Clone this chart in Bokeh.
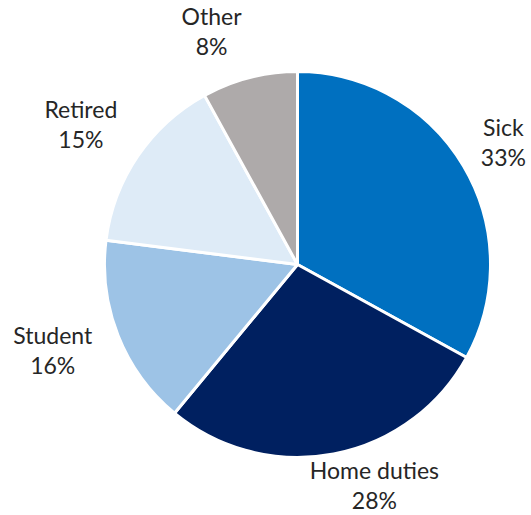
import numpy as np
from bokeh.plotting import figure
from bokeh.models import ColumnDataSource, Range1d
from bokeh.core.properties import value
from bokeh.embed import file_html
from bokeh.resources import INLINE

categories = ["Sick", "Home duties", "Student", "Retired", "Other"]
shares = [33, 28, 16, 15, 8]
colors = ["#0070C0", "#002060", "#9DC3E6", "#DEEBF7", "#AEAAAA"]

W, H = 531, 515
cx, cy, R = 297, 251, 193

frac = np.array(shares, dtype=float) / sum(shares)
cum = np.cumsum(frac)
start = np.pi / 2 - 2 * np.pi * (cum - frac)
end = np.pi / 2 - 2 * np.pi * cum
mid = (start + end) / 2

# label placement: radial position plus small nudges (screen px)
lr = 245
nudge_x = [-5, 31, -17, -14, -25]
nudge_y = [-2, 20, 5, 3, -4]
lx = cx + lr * np.cos(mid) + np.array(nudge_x)
ly = cy + lr * np.sin(mid) + np.array(nudge_y)

src = ColumnDataSource(dict(
    start=start, end=end, color=colors,
    lx=lx, ly=ly, name=categories, pct=[f"{s}%" for s in shares],
))

p = figure(width=W, height=H, output_backend="svg", toolbar_location=None,
           x_range=Range1d(0, W), y_range=Range1d(0, H), min_border=0)
p.axis.visible = False
p.grid.visible = False
p.outline_line_color = None
p.background_fill_color = "white"

p.wedge(x=cx, y=cy, radius=R, start_angle="start", end_angle="end",
        direction="clock", fill_color="color", line_color="white",
        line_width=3, source=src)

common = dict(text_font=value("Lato"), text_font_size="23px",
              text_color="#262626", text_align="center", text_baseline="middle",
              source=src)
p.text(x="lx", y="ly", text="name", y_offset=-15, **common)
p.text(x="lx", y="ly", text="pct", y_offset=15, **common)

open("out.html", "w").write(file_html(p, INLINE))
